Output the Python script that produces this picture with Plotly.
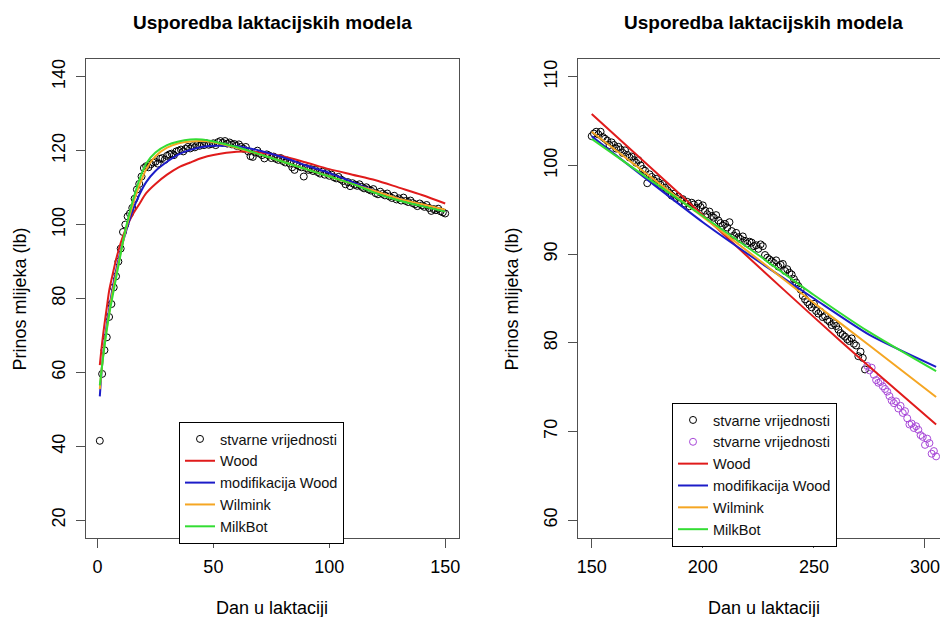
import plotly.graph_objects as go

# ---------------- Left panel data (days 1-150) ----------------
obs_days_left = list(range(1, 151))
obs_left = [
    41.5, 59.6, 66.0, 69.5, 75.0, 78.5, 83.0, 86.0, 90.0, 93.5,
    98.0, 100.0, 102.2, 103.0, 104.5, 107.0, 109.5, 111.0, 113.0, 115.3,
    115.8, 115.5, 116.3, 116.8, 117.0, 116.5, 117.8, 118.0, 117.5, 118.6,
    119.0, 119.2, 118.8, 119.8, 120.0, 120.3, 119.8, 120.5, 121.0, 120.6,
    121.2, 120.9, 121.5, 121.3, 121.8, 121.5, 122.0, 121.6, 121.8, 122.0,
    121.5, 122.3, 122.6, 122.1, 122.6, 121.9, 122.2, 121.7, 121.8, 121.3,
    121.7, 121.0, 120.5, 121.0, 119.8, 118.5, 118.3, 119.5, 120.0, 119.2,
    118.8, 117.9, 119.0, 118.7, 118.0, 118.4, 117.8, 117.5, 118.0, 117.2,
    116.8, 117.3, 116.5, 115.5, 114.8, 116.2, 115.8, 115.5, 113.0, 115.3,
    114.8, 115.0, 114.5, 114.8, 114.2, 113.8, 114.3, 113.5, 113.9, 113.2,
    113.5, 112.8, 112.5, 112.9, 112.2, 111.8, 110.9, 111.5, 110.4, 111.2,
    110.8, 110.5, 110.9, 110.2, 109.8, 110.1, 109.5, 109.2, 109.6, 108.5,
    108.2, 108.9, 108.3, 107.9, 108.4, 107.6, 107.2, 107.8, 106.8, 107.1,
    106.5, 107.3, 106.4, 106.1, 106.5, 105.8, 105.5, 105.0, 105.7, 105.2,
    104.8, 105.3, 104.5, 103.7, 104.2, 103.9, 104.3, 103.6, 103.3, 103.0,
]

model_days_left = [1, 2, 3, 4, 5, 6, 8, 10, 12, 15, 18, 21, 25, 30, 35, 40, 45, 50,
                   60, 70, 80, 90, 100, 110, 120, 130, 140, 150]
wood_left = [62.0, 68.0, 73.0, 77.5, 82.0, 85.0, 90.5, 95.0, 98.5, 102.5, 105.5, 108.5,
             111.0, 113.5, 115.5, 116.8, 118.0, 118.8, 119.7, 119.5, 118.5, 116.8,
             115.0, 113.5, 112.0, 110.0, 108.0, 105.7]
modwood_left = [53.5, 62.0, 68.0, 73.0, 77.0, 81.0, 87.5, 93.0, 97.5, 103.5, 108.0, 111.5,
                114.5, 117.0, 119.0, 120.2, 121.0, 121.3, 121.2, 120.0, 118.2, 116.0,
                114.0, 111.5, 109.0, 107.0, 105.2, 103.7]
wilmink_left = [55.5, 62.0, 67.5, 72.0, 76.0, 80.0, 86.5, 92.5, 98.0, 105.0, 110.5, 115.0,
                118.5, 120.8, 122.0, 122.5, 122.6, 122.3, 120.8, 119.0, 117.0, 115.0,
                113.0, 111.0, 109.0, 107.0, 105.5, 104.0]
milkbot_left = [56.5, 62.0, 67.0, 71.5, 75.5, 79.0, 85.5, 92.0, 98.5, 106.0, 112.0, 116.5,
                119.5, 121.5, 122.5, 123.0, 123.0, 122.5, 121.0, 119.0, 117.0, 115.0,
                113.0, 111.0, 108.5, 106.5, 105.0, 103.5]

# ---------------- Right panel data (days 150-305) ----------------
obs_days_right_a = list(range(150, 274))
obs_right_a = [
    103.3, 103.6, 103.8, 103.5, 103.8, 103.2, 103.0, 102.8, 102.3, 102.6,
    102.3, 101.9, 102.1, 101.8, 101.4, 101.7, 101.2, 100.9, 101.0, 100.6,
    100.3, 100.6, 100.0, 99.6, 99.4, 98.0, 99.0, 98.7, 98.3, 98.5,
    98.1, 97.8, 97.9, 97.5, 97.2, 96.9, 96.6, 96.8, 96.3, 96.5,
    96.0, 96.2, 95.7, 95.9, 95.4, 95.8, 95.6, 95.2, 95.7, 95.3,
    95.5, 94.9, 94.5, 94.8, 94.3, 94.1, 94.4, 93.8, 93.5, 93.2,
    93.4, 93.0, 93.6, 92.6, 92.1, 92.4, 91.9, 91.7, 92.0, 91.5,
    91.2, 91.4, 91.3, 90.9, 91.0, 90.6, 91.1, 90.9, 89.9, 89.6,
    89.4, 89.2, 89.0, 89.3, 88.6, 88.8, 88.9, 88.1, 88.3, 87.9,
    87.7, 87.2, 86.8, 86.4, 86.0, 85.3, 84.9, 84.6, 84.3, 84.0,
    84.4, 83.6, 83.3, 83.5, 82.9, 83.0, 82.6, 82.4, 82.0, 82.2,
    81.9, 81.5, 81.1, 80.9, 80.7, 80.4, 80.2, 80.5, 79.9, 79.7,
    78.5, 79.0, 78.3, 77.0,
]
obs_days_right_b = list(range(274, 306))
obs_right_b = [
    77.4, 76.9, 77.2, 76.4, 75.8, 75.5, 75.6, 75.1, 74.8, 74.5,
    74.0, 73.5, 73.2, 73.4, 72.6, 72.9, 72.1, 72.3, 71.5, 70.8,
    70.9, 70.4, 70.6, 70.2, 69.6, 69.4, 68.5, 69.2, 68.7, 67.5,
    67.8, 67.2,
]

model_days_right = [150, 175, 200, 225, 250, 275, 305]
wood_right = [105.8, 100.1, 94.4, 88.6, 82.9, 77.3, 70.8]
modwood_right = [103.3, 98.4, 93.6, 89.2, 85.0, 80.9, 77.3]
wilmink_right = [103.8, 99.0, 94.2, 89.4, 84.5, 79.7, 73.9]
milkbot_right = [103.0, 98.6, 94.3, 89.9, 85.4, 81.2, 76.8]

x_ticks_left = [0, 50, 100, 150]
y_ticks_left = [20, 40, 60, 80, 100, 120, 140]
x_ticks_right = [150, 200, 250, 300]
y_ticks_right = [60, 70, 80, 90, 100, 110]

TITLE = "Usporedba laktacijskih modela"
XLAB = "Dan u laktaciji"
YLAB = "Prinos mlijeka (lb)"
OBS_NAME = "stvarne vrijednosti"
MODEL_NAMES = ["Wood", "modifikacija Wood", "Wilmink", "MilkBot"]
MODEL_COLORS = ["#E01B1B", "#1C1CC8", "#F5A623", "#33DD33"]

FONT = "Liberation Sans, Arial, sans-serif"
AX_COL = "#505050"

fig = go.Figure()

# left panel
fig.add_trace(go.Scatter(x=obs_days_left, y=obs_left, mode="markers", name=OBS_NAME,
                         marker=dict(symbol="circle-open", size=7, color="black", line=dict(width=1)),
                         xaxis="x", yaxis="y", legend="legend"))
for name, col, vals in zip(MODEL_NAMES, MODEL_COLORS,
                           [wood_left, modwood_left, wilmink_left, milkbot_left]):
    fig.add_trace(go.Scatter(x=model_days_left, y=vals, mode="lines", name=name,
                             line=dict(color=col, width=2, shape="spline", smoothing=0.8),
                             xaxis="x", yaxis="y", legend="legend"))

# right panel
fig.add_trace(go.Scatter(x=obs_days_right_a, y=obs_right_a, mode="markers", name=OBS_NAME,
                         marker=dict(symbol="circle-open", size=7, color="black", line=dict(width=1)),
                         xaxis="x2", yaxis="y2", legend="legend2"))
fig.add_trace(go.Scatter(x=obs_days_right_b, y=obs_right_b, mode="markers", name=OBS_NAME,
                         marker=dict(symbol="circle-open", size=7, color="#A848D8", line=dict(width=1)),
                         xaxis="x2", yaxis="y2", legend="legend2"))
for name, col, vals in zip(MODEL_NAMES, MODEL_COLORS,
                           [wood_right, modwood_right, wilmink_right, milkbot_right]):
    fig.add_trace(go.Scatter(x=model_days_right, y=vals, mode="lines", name=name,
                             line=dict(color=col, width=2, shape="spline", smoothing=0.6),
                             xaxis="x2", yaxis="y2", legend="legend2"))

axis_common = dict(showgrid=False, zeroline=False, showline=True, linecolor=AX_COL, linewidth=1,
                   ticks="outside", ticklen=9, tickcolor=AX_COL, tickwidth=1,
                   tickfont=dict(family=FONT, size=18, color="black"))

legend_common = dict(xanchor="left", yanchor="top", bgcolor="white", bordercolor="black",
                     borderwidth=1, font=dict(family=FONT, size=14.5, color="#111"),
                     itemwidth=30, traceorder="normal")

fig.update_layout(
    width=940, height=617,
    margin=dict(l=86, r=0, t=59, b=79),
    paper_bgcolor="white", plot_bgcolor="white",
    font=dict(family=FONT, color="black"),
    xaxis=dict(domain=[0, 0.43677], range=[-4.96, 155.96], tickvals=x_ticks_left,
               mirror=True, anchor="y", ticklabelstandoff=3, **axis_common),
    yaxis=dict(domain=[0, 1], range=[15.2, 144.8], tickvals=y_ticks_left, tickangle=-90,
               mirror=True, anchor="x", ticklabelstandoff=4, **axis_common),
    xaxis2=dict(domain=[0.57611, 1], range=[143.83, 306.75], tickvals=x_ticks_right,
                mirror=True, anchor="y2", ticklabelstandoff=3, ticklabeloverflow="allow",
                **axis_common),
    yaxis2=dict(domain=[0, 1], range=[58, 112], tickvals=y_ticks_right, tickangle=-90,
                mirror=False, anchor="x2", ticklabelstandoff=4, **axis_common),
    legend=dict(x=0.1089, y=0.2422, **legend_common),
    legend2=dict(x=0.6862, y=0.2818, **legend_common),
    showlegend=True,
)

annotations = []
for cx in [0.21838, 0.79391]:
    annotations.append(dict(text="<b>" + TITLE + "</b>", x=cx, y=1.0772, xref="paper", yref="paper",
                            xanchor="center", yanchor="middle", showarrow=False,
                            font=dict(family=FONT, size=19, color="black")))
for cx in [0.21838, 0.79391]:
    annotations.append(dict(text=XLAB, x=cx, y=-0.146, xref="paper", yref="paper",
                            xanchor="center", yanchor="middle", showarrow=False,
                            font=dict(family=FONT, size=18, color="black")))
for cx in [-0.0773, 0.4988]:
    annotations.append(dict(text=YLAB, x=cx, y=0.5, xref="paper", yref="paper",
                            xanchor="center", yanchor="middle", showarrow=False, textangle=-90,
                            font=dict(family=FONT, size=18, color="black")))
fig.update_layout(annotations=annotations)

# remove the default page margin so the 940x617 figure fills the window exactly
fig.write_html("out.html",
               config={"displayModeBar": False},
               post_script="document.body.style.margin='0';document.body.style.overflow='hidden';")
